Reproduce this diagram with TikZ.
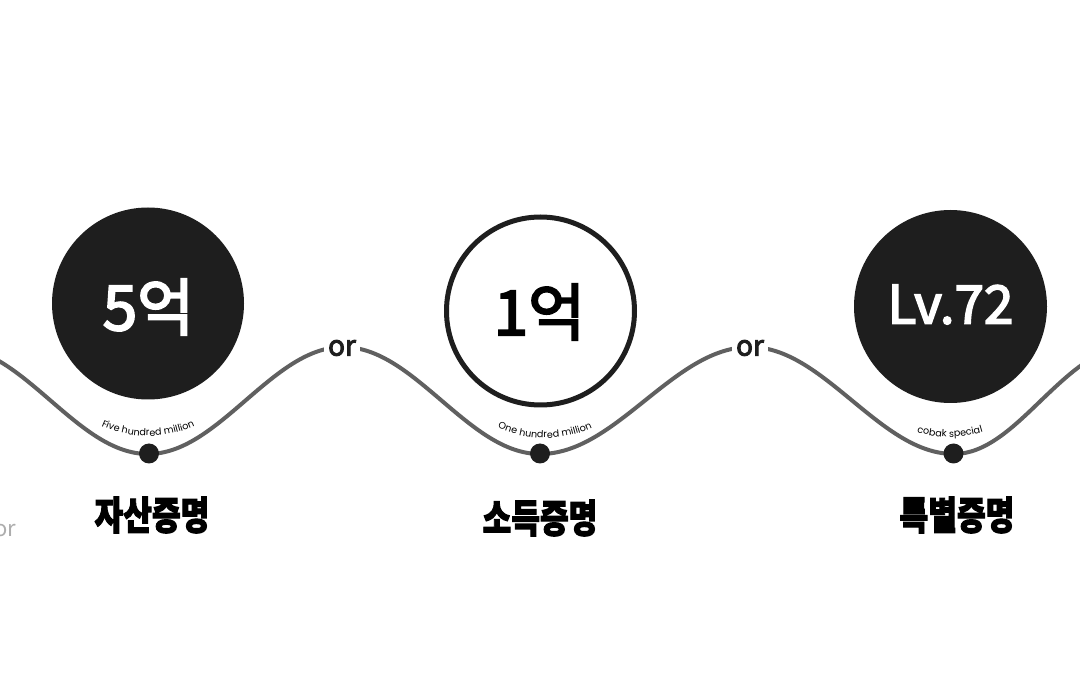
\documentclass[tikz,border=0pt]{standalone}
\usepackage{fontspec}
\usetikzlibrary{decorations.text}
\newfontfamily\kr{Noto Sans CJK KR}[BoldFeatures={FakeBold=2.8}]
\newfontfamily\krm{Noto Sans CJK KR}[FakeBold=3.2]
\newfontfamily\krn{Noto Sans CJK KR}
\newfontfamily\pop{Poppins}
\newcommand\smalltxt{\pop\fontsize{9.6}{9.6}\selectfont}
\definecolor{wave}{HTML}{606060}
\definecolor{ink}{HTML}{1E1E1E}
\tikzset{
  wave/.style={draw=wave, line width=4pt},
  bigdisc/.style={fill=ink},
  ring/.style={draw=ink, line width=5pt, fill=white},
  dotnode/.style={circle, fill=ink, minimum size=20pt, inner sep=0pt},
  bignum/.style={inner sep=0pt, font=\krm\fontsize{62}{62}\selectfont},
  ornode/.style={fill=white, inner xsep=4pt, inner ysep=1pt, font=\krm\fontsize{28}{28}\selectfont, text=ink},
  title/.style={inner sep=0pt, xscale=0.80, font=\kr\bfseries\fontsize{39}{39}\selectfont, text=black},
  curvetext/.style={decorate, decoration={text along path, text align=center, text={|\smalltxt|#1}}}
}
\begin{document}
\begin{tikzpicture}[x=1pt,y=-1pt]
\useasboundingbox (0,0) rectangle (1080,700);
\clip (0,0) rectangle (1080,700);
\fill[white] (0,0) rectangle (1080,700);
% wave
\draw[wave] (-47,347) cos (50.5,400.5) sin (148,454) cos (245.5,400.5) sin (343,347)
  cos (441.5,400.5) sin (540,454) cos (645,400.5) sin (750,347)
  cos (852,400.5) sin (954,454) cos (1041,400.5) sin (1129,347);
% circles
\fill[bigdisc] (148,303.5) circle[radius=96];
\draw[ring] (540.5,311) circle[radius=94];
\fill[bigdisc] (950.5,306.5) circle[radius=96.5];
\node[bignum, text=white] (n1) at (148.5,307) {5억};
\node[bignum, text=black] (n2) at (539.5,312) {1억};
\node[bignum, text=white, font=\krm\fontsize{53}{53}\selectfont] (n3) at (950.5,304.5) {Lv.72};
% or labels
\node[ornode] (or1) at (342,348) {or};
\node[ornode] (or2) at (750,348) {or};
\node[inner sep=0pt, text=black!32, font=\krn\fontsize{22}{22}\selectfont] (or0) at (5,531) {or};
% dots
\node[dotnode] (d1) at (149,453.5) {};
\node[dotnode] (d2) at (540,453.5) {};
\node[dotnode] (d3) at (953.5,453.5) {};
% curved captions
\path[curvetext={Five hundred million}] (148,321) ++(130:115) arc[start angle=130, end angle=50, radius=115];
\path[curvetext={One hundred million}] (545,323) ++(130:115) arc[start angle=130, end angle=50, radius=115];
\path[curvetext={cobak special}] (950,322) ++(130:115) arc[start angle=130, end angle=50, radius=115];
% titles
\node[title] (t1) at (152,515) {자산증명};
\node[title] (t2) at (540,518) {소득증명};
\node[title] (t3) at (957,515) {특별증명};
\end{tikzpicture}
\end{document}
